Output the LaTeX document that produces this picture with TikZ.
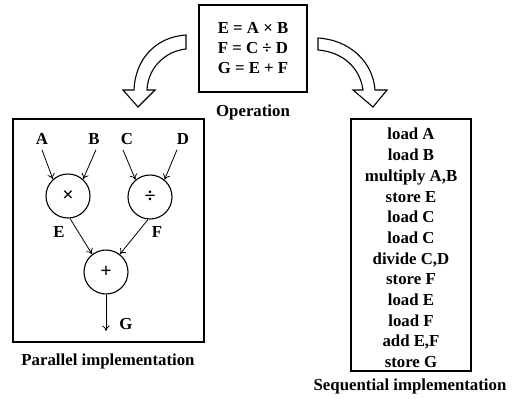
\documentclass[tikz,border=0pt]{standalone}
\usepackage{fontspec}
\setmainfont{Liberation Serif}
\usetikzlibrary{arrows.meta}
\begin{document}
\begin{tikzpicture}[x=1pt,y=-1pt,
  lbl/.style={font=\fontsize{16.8}{18}\selectfont\bfseries, inner sep=0pt},
  box/.style={draw, line width=1.3pt, inner sep=0pt},
  opnode/.style={draw, circle, line width=1.1pt, minimum size=44pt, inner sep=0pt,
                 font=\fontsize{20}{20}\selectfont\bfseries},
  conn/.style={line width=0.8pt, -{To[length=5.5pt,width=7.5pt]}},
  bigarrow/.style={draw, line width=1.1pt, fill=white, line join=miter}
]
\useasboundingbox (0,0) rectangle (512,405);

% operation definition
\node[box, minimum width=108pt, minimum height=87pt, align=center,
      font=\fontsize{16.8}{20}\selectfont\bfseries] (op) at (253,48.5)
      {E = A × B\\F = C ÷ D\\G = E + F};
\node[lbl] (opcap) at (253,112) {Operation};

% hollow curved arrows
\draw[bigarrow] (186,35) .. controls (155,37) and (135,60) .. (134,90)
  -- (123,90) -- (138,107) -- (155,90) -- (147,90)
  .. controls (148,67) and (166,51) .. (186,49) -- cycle;
\draw[bigarrow] (318,38) .. controls (350,40) and (373,62) .. (375,90)
  -- (387,90) -- (373,107) -- (353,90) -- (363,90)
  .. controls (360,68) and (343,52) .. (318,50) -- cycle;

% parallel implementation
\node[box, minimum width=191pt, minimum height=223pt] (par) at (108.5,230.5) {};
\node[lbl] (parcap) at (108,361) {Parallel implementation};

\node[lbl] (A) at (42,139) {A};
\node[lbl] (B) at (94,139) {B};
\node[lbl] (C) at (127,139) {C};
\node[lbl] (D) at (183,139) {D};
\node[opnode] (mul) at (68,196) {×};
\node[opnode] (dvd) at (150,197) {÷};
\node[opnode] (add) at (106,272) {+};
\node[lbl] (E) at (59,232) {E};
\node[lbl] (F) at (157,232) {F};
\node[lbl] (G) at (126,324) {G};
\coordinate (gend) at (106,331);

\draw[conn] ([yshift=-5pt]A.south) -- (mul.132);
\draw[conn] ([xshift=2pt,yshift=-5pt]B.south) -- (mul.48);
\draw[conn] ([xshift=-4pt,yshift=-5pt]C.south) -- (dvd.130);
\draw[conn] ([xshift=-6pt,yshift=-5pt]D.south) -- (dvd.50);
\draw[conn] (mul.275) -- (add.128);
\draw[conn] (dvd.265) -- (add.52);
\draw[conn] (add.south) -- (gend);

% sequential implementation
\node[box, minimum width=120pt, minimum height=252pt] (seq) at (411,245) {};
\node[align=center, inner sep=0pt,
      font=\fontsize{16.8}{20.7}\selectfont\bfseries] (steps) at (411,248)
      {load A\\load B\\multiply A,B\\store E\\load C\\load C\\divide C,D\\store F\\load E\\load F\\add E,F\\store G};
\node[lbl] (seqcap) at (410,386) {Sequential implementation};
\end{tikzpicture}
\end{document}
